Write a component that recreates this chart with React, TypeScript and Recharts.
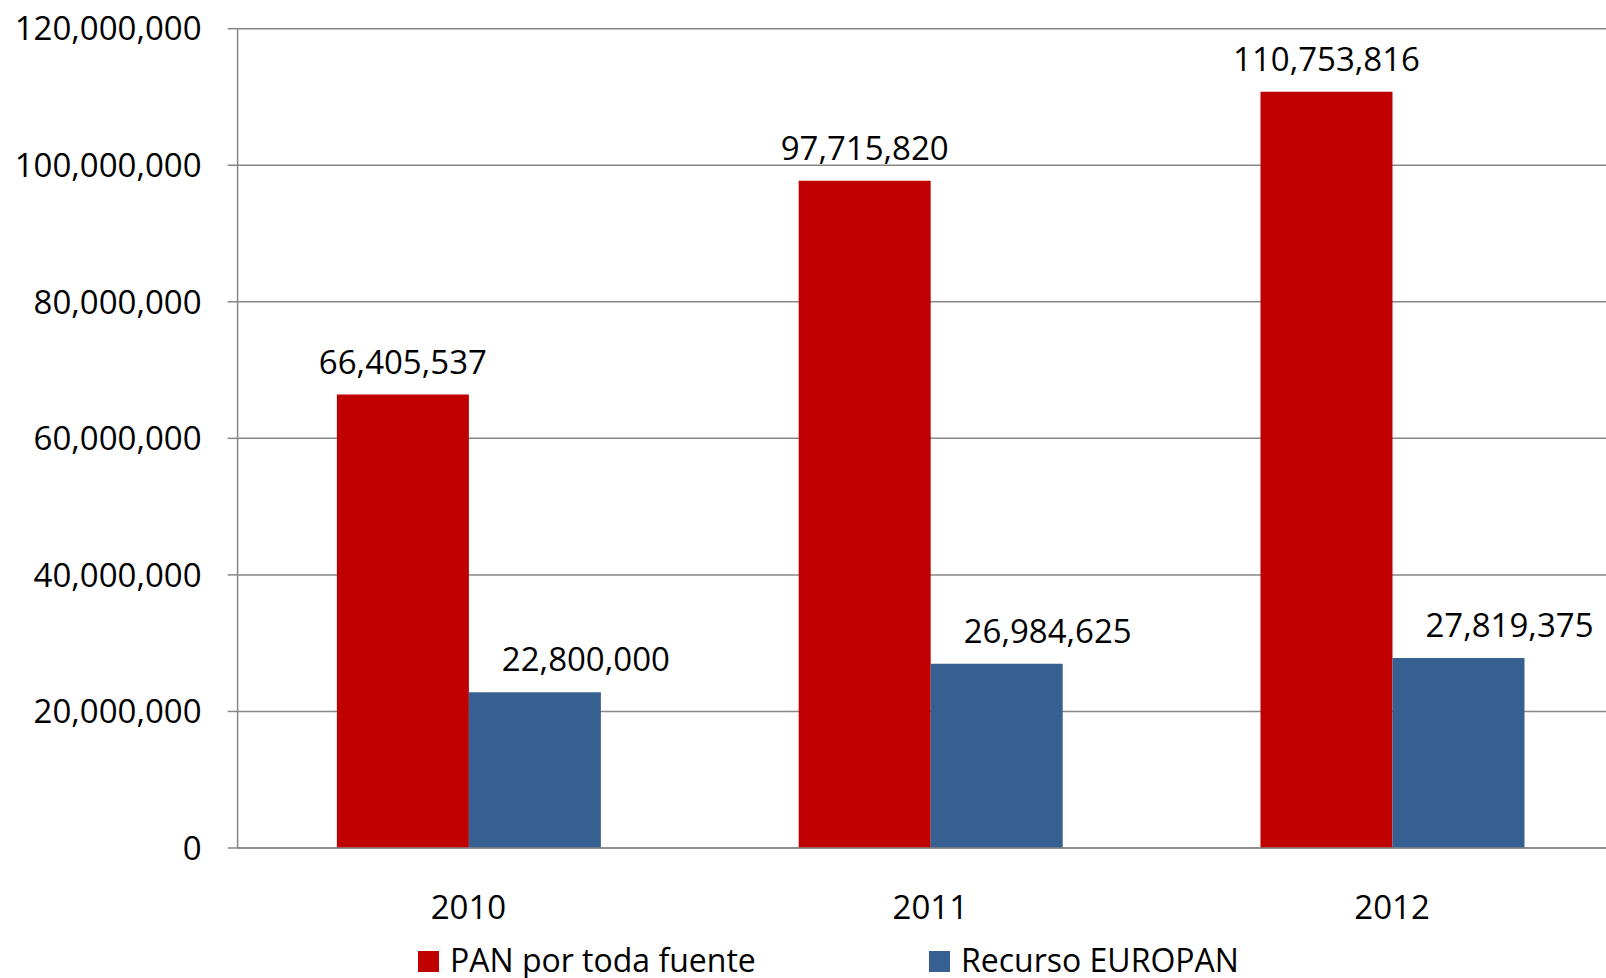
import { Bar, BarChart, CartesianGrid, LabelList, XAxis, YAxis } from 'recharts';

const YEARS = ['2010', '2011', '2012'];
const PAN_TOTAL = [66405537, 97715820, 110753816];
const EUROPAN = [22800000, 26984625, 27819375];
const Y_TICKS = [0, 20000000, 40000000, 60000000, 80000000, 100000000, 120000000];
const EDGE_TICKS = [0, 1, 2, 3];

const SERIES = [
  { key: 'pan', name: 'PAN por toda fuente', color: '#C00000' },
  { key: 'europan', name: 'Recurso EUROPAN', color: '#376092' },
];

const FONT = '"Open Sans", sans-serif';
const GRID = '#868686';
const NUM_SIZE = 33;

const rows = YEARS.map((year, i) => ({ year, pan: PAN_TOTAL[i], europan: EUROPAN[i] }));

const fmt = (v: number) => v.toLocaleString('en-US');

export default function App() {
  return (
    <div
      style={{
        position: 'absolute',
        left: 0,
        top: 0,
        width: 1606,
        height: 978,
        overflow: 'hidden',
        background: '#fff',
        fontFamily: FONT,
      }}
    >
      <BarChart
        width={1630}
        height={978}
        data={rows}
        margin={{ top: 28.7, right: 7, left: 0, bottom: 0 }}
        barCategoryGap="21.5%"
        barGap={0}
      >
        <CartesianGrid vertical={false} stroke={GRID} strokeWidth={1.5} />
        {/* category labels, sits below the edge-tick axis */}
        <XAxis
          xAxisId="cat"
          dataKey="year"
          axisLine={false}
          tickLine={false}
          tickSize={0}
          tickMargin={36}
          height={118}
          tick={{ fill: '#000', fontSize: NUM_SIZE, fontFamily: FONT }}
        />
        {/* tick marks on the category boundaries, like Excel */}
        <XAxis
          xAxisId="aEdge"
          type="number"
          domain={[0, 3]}
          ticks={EDGE_TICKS}
          allowDataOverflow
          tick={false}
          tickSize={12}
          height={12}
          stroke={GRID}
          strokeWidth={1.5}
        />
        <YAxis
          width={237.6}
          domain={[0, 120000000]}
          ticks={Y_TICKS}
          tickFormatter={fmt}
          tickSize={10}
          tickMargin={26}
          stroke={GRID}
          strokeWidth={1.5}
          tick={{ fill: '#000', fontSize: NUM_SIZE, fontFamily: FONT }}
        />
        {SERIES.map((s) => (
          <Bar
            key={s.key}
            xAxisId="cat"
            dataKey={s.key}
            name={s.name}
            fill={s.color}
            isAnimationActive={false}
          >
            <LabelList
              dataKey={s.key}
              position="top"
              offset={21}
              dx={s.key === 'europan' ? 51 : 0}
              formatter={(v: any) => fmt(Number(v))}
              style={{ fill: '#000', fontSize: NUM_SIZE, fontFamily: FONT }}
            />
          </Bar>
        ))}
      </BarChart>
      <div
        style={{
          position: 'absolute',
          left: 418,
          top: 943.6,
          display: 'flex',
          fontSize: 32,
          lineHeight: '32px',
          color: '#000',
        }}
      >
        {SERIES.map((s) => (
          <div key={s.key} style={{ display: 'flex', alignItems: 'flex-start', width: 511 }}>
            <span
              style={{
                display: 'inline-block',
                width: 21,
                height: 21,
                marginTop: 7.4,
                marginRight: 11,
                background: s.color,
              }}
            />
            <span style={{ whiteSpace: 'nowrap' }}>{s.name}</span>
          </div>
        ))}
      </div>
    </div>
  );
}
